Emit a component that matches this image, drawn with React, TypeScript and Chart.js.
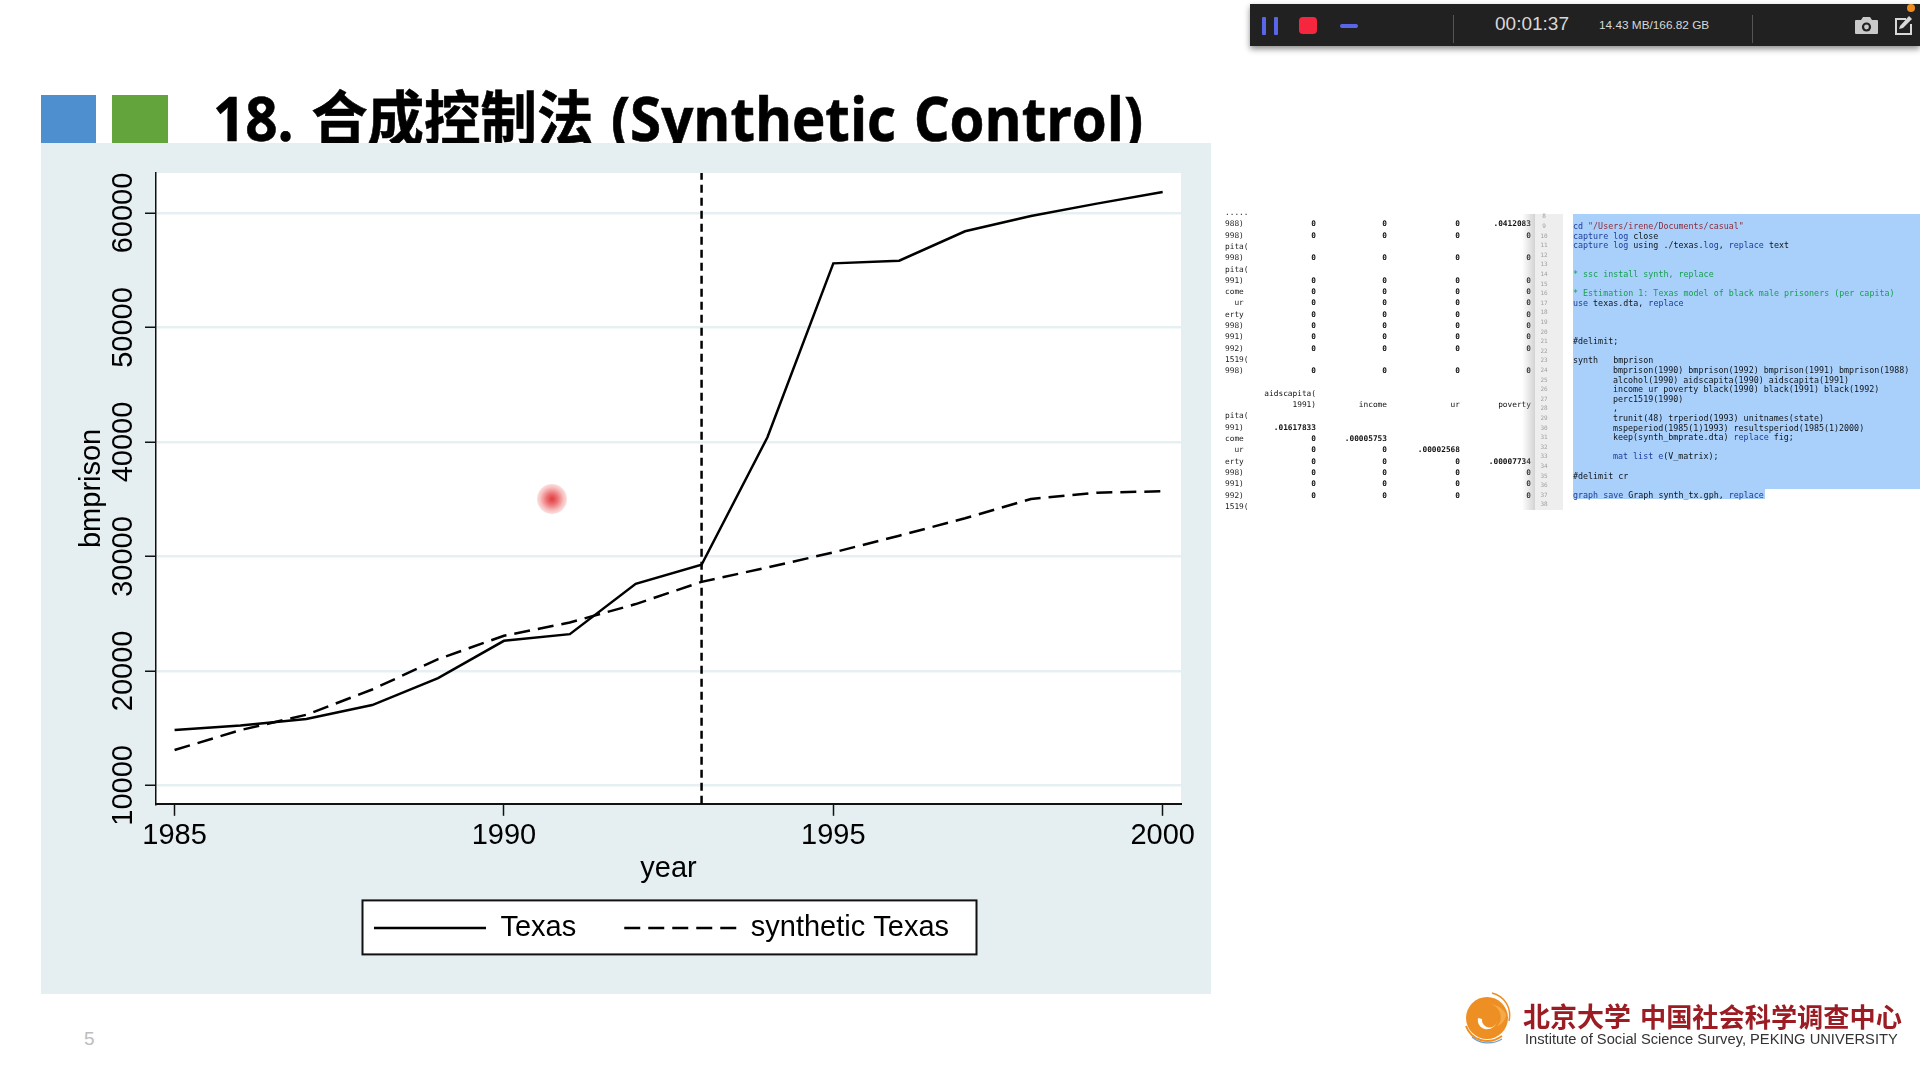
import React, { useEffect, useRef } from "react";
import { Chart, registerables } from "chart.js";

Chart.register(...registerables);

const years = [1985, 1986, 1987, 1988, 1989, 1990, 1991, 1992, 1993, 1994, 1995, 1996, 1997, 1998, 1999, 2000];
const texas = [14840, 15240, 15800, 17020, 19370, 22630, 23215, 27610, 29270, 40410, 55600, 55830, 58400, 59740, 60816, 61836];
const synthetic = [13090, 14830, 16170, 18380, 21030, 23070, 24230, 25840, 27780, 29040, 30350, 31810, 33330, 35020, 35570, 35690];
const treatmentYear = 1993;
const xTickValues = [1985, 1990, 1995, 2000];
const yTickValues = [10000, 20000, 30000, 40000, 50000, 60000];
const xRange = [1984.718, 2000.278];
const yRange = [8394, 63492];
const seriesNames = ["Texas", "synthetic Texas"];
const xTitle = "year";
const yTitle = "bmprison";

const slideTitle = "18. 合成控制法 (Synthetic Control)";
const pageNumber = "5";
const recorderTime = "00:01:37";
const recorderStorage = "14.43 MB/166.82 GB";
const logoCn1 = "北京大学";
const logoCn2 = "中国社会科学调查中心";
const logoEn = "Institute of Social Science Survey, PEKING UNIVERSITY";

const outputRows: string[][] = [
  ["....."],
  ["988)", "0", "0", "0", ".0412083"],
  ["998)", "0", "0", "0", "0"],
  ["pita("],
  ["998)", "0", "0", "0", "0"],
  ["pita("],
  ["991)", "0", "0", "0", "0"],
  ["come", "0", "0", "0", "0"],
  ["  ur", "0", "0", "0", "0"],
  ["erty", "0", "0", "0", "0"],
  ["998)", "0", "0", "0", "0"],
  ["991)", "0", "0", "0", "0"],
  ["992)", "0", "0", "0", "0"],
  ["1519("],
  ["998)", "0", "0", "0", "0"],
  [""],
  ["", "aidscapita("],
  ["", "1991)", "income", "ur", "poverty"],
  ["pita("],
  ["991)", ".01617833"],
  ["come", "0", ".00005753"],
  ["  ur", "0", "0", ".00002568"],
  ["erty", "0", "0", "0", ".00007734"],
  ["998)", "0", "0", "0", "0"],
  ["991)", "0", "0", "0", "0"],
  ["992)", "0", "0", "0", "0"],
  ["1519("],
];

const K = "#1c3c9c";
const G = "#16a050";
const S = "#8c2a3a";
const D = "#111418";
const codeLines: [number, number, [string, string][]][] = [
  [9, 0, [["cd ", K], ['"/Users/irene/Documents/casual"', S]]],
  [10, 0, [["capture log ", K], ["close", D]]],
  [11, 0, [["capture log ", K], ["using ./texas.", D], ["log", K], [", ", D], ["replace", K], [" text", D]]],
  [14, 0, [["* ssc install synth, replace", G]]],
  [16, 0, [["* Estimation 1: Texas model of black male prisoners (per capita)", G]]],
  [17, 0, [["use", K], [" texas.dta, ", D], ["replace", K]]],
  [21, 0, [["#delimit;", D]]],
  [23, 0, [["synth   bmprison", D]]],
  [24, 40, [["bmprison(1990) bmprison(1992) bmprison(1991) bmprison(1988)", D]]],
  [25, 40, [["alcohol(1990) aidscapita(1990) aidscapita(1991)", D]]],
  [26, 40, [["income ur poverty black(1990) black(1991) black(1992)", D]]],
  [27, 40, [["perc1519(1990)", D]]],
  [28, 40, [[",", D]]],
  [29, 40, [["trunit(48) trperiod(1993) unitnames(state)", D]]],
  [30, 40, [["mspeperiod(1985(1)1993) resultsperiod(1985(1)2000)", D]]],
  [31, 40, [["keep(synth_bmprate.dta) ", D], ["replace", K], [" fig;", D]]],
  [33, 40, [["mat list e", K], ["(V_matrix);", D]]],
  [35, 0, [["#delimit cr", D]]],
  [37, 0, [["graph save", K], [" Graph synth_tx.gph, ", D], ["replace", K]]],
];
const gutterNumbers = [8, 9, 10, 11, 12, 13, 14, 15, 16, 17, 18, 19, 20, 21, 22, 23, 24, 25, 26, 27, 28, 29, 30, 31, 32, 33, 34, 35, 36, 37, 38];

const chartFont = '"Liberation Sans", Arial, sans-serif';
const mono = '"DejaVu Sans Mono", monospace';

const box = (left: number, top: number, width: number, height: number, background: string, extra: any = {}) => ({
  position: "absolute" as const,
  left,
  top,
  width,
  height,
  background,
  ...extra,
});

const legendFrame = {
  id: "legendFrame",
  afterLayout(chart: any) {
    chart.legend.left -= 7;
    chart.legend.right -= 7;
  },
  beforeDraw(chart: any) {
    const { ctx, chartArea } = chart;
    ctx.save();
    ctx.fillStyle = "#ffffff";
    ctx.fillRect(chartArea.left, chartArea.top, chartArea.right - chartArea.left, chartArea.bottom - chartArea.top);
    const cx = (chartArea.left + chartArea.right) / 2 + 1;
    const cy = chart.legend.top + 62;
    ctx.strokeStyle = "#111111";
    ctx.lineWidth = 2;
    ctx.fillRect(cx - 307, cy - 27, 614, 54);
    ctx.strokeRect(cx - 307, cy - 27, 614, 54);
    ctx.restore();
  },
};

function App() {
  const ref = useRef<HTMLCanvasElement>(null);
  useEffect(() => {
    const chart = new Chart(ref.current!, {
      type: "line",
      data: {
        datasets: [
          {
            label: seriesNames[0],
            data: years.map((y, i) => ({ x: y, y: texas[i] })),
            borderColor: "#000000",
            borderWidth: 2.5,
            pointRadius: 0,
            tension: 0,
          },
          {
            label: seriesNames[1],
            data: years.map((y, i) => ({ x: y, y: synthetic[i] })),
            borderColor: "#000000",
            borderWidth: 2.5,
            borderDash: [16, 8],
            pointRadius: 0,
            tension: 0,
          },
          {
            label: "treatment",
            data: yRange.map((v) => ({ x: treatmentYear, y: v })),
            borderColor: "#000000",
            borderWidth: 2.5,
            borderDash: [8, 5],
            pointRadius: 0,
          },
        ],
      },
      plugins: [legendFrame],
      options: {
        animation: false,
        responsive: false,
        maintainAspectRatio: false,
        layout: { padding: { left: 0, right: 30, top: 30, bottom: 41.6 } },
        scales: {
          x: {
            type: "linear",
            min: xRange[0],
            max: xRange[1],
            afterBuildTicks: (s: any) => {
              s.ticks = xTickValues.map((value) => ({ value }));
            },
            afterFit: (s: any) => {
              s.height = 61.6;
            },
            grid: { drawOnChartArea: false, tickColor: "#111111", tickLength: 12, tickWidth: 1.5 },
            border: { color: "#111111", width: 2 },
            ticks: {
              color: "#000000",
              font: { family: chartFont, size: 29 },
              padding: 3,
              maxRotation: 0,
              autoSkip: false,
              callback: (v: any) => String(v),
            },
            title: {
              display: true,
              text: xTitle,
              color: "#000000",
              font: { family: chartFont, size: 29 },
              padding: { top: 0, bottom: -20.8 },
            },
          },
          y: {
            type: "linear",
            min: yRange[0],
            max: yRange[1],
            afterBuildTicks: (s: any) => {
              s.ticks = yTickValues.map((value) => ({ value }));
            },
            afterFit: (s: any) => {
              s.width = 115;
            },
            grid: { color: "#e6eff1", lineWidth: 2.5, tickColor: "#111111", tickLength: 11, tickWidth: 1.5 },
            border: { color: "#111111", width: 1.5 },
            ticks: {
              color: "#000000",
              font: { family: chartFont, size: 29 },
              padding: -19.5,
              crossAlign: "center",
              minRotation: 90,
              maxRotation: 90,
              autoSkip: false,
              callback: (v: any) => String(v),
            },
            title: {
              display: true,
              text: yTitle,
              color: "#000000",
              font: { family: chartFont, size: 29 },
              padding: { top: 34, bottom: 0 },
            },
          },
        },
        plugins: {
          tooltip: { enabled: false },
          legend: {
            position: "bottom",
            fullSize: false,
            labels: {
              color: "#000000",
              font: { family: chartFont, size: 29 },
              usePointStyle: true,
              pointStyle: "line",
              pointStyleWidth: 112,
              padding: 48,
              filter: (item: any) => seriesNames.includes(item.text),
              generateLabels: (c: any) =>
                Chart.defaults.plugins.legend.labels.generateLabels(c).map((item: any) => {
                  const ds = c.data.datasets[item.datasetIndex];
                  return { ...item, lineDash: ds.borderDash || [], lineWidth: ds.borderWidth, strokeStyle: ds.borderColor };
                }),
            },
          },
        },
      },
    } as any);
    return () => chart.destroy();
  }, []);

  return (
    <div style={{ position: "absolute", left: 0, top: 0, width: 1920, height: 1080, overflow: "hidden", background: "#fff" }}>
      <div style={box(41, 95, 55, 48, "#4e8fcf")} />
      <div style={box(112, 95, 56, 48, "#64a43c")} />
      <div
        style={{
          position: "absolute",
          left: 213,
          top: 76,
          whiteSpace: "nowrap",
          color: "#000",
          font: '700 60px "Open Sans","Noto Sans CJK SC",sans-serif',
          lineHeight: "84px",
          wordSpacing: 3,
          transform: "scaleX(0.941)",
          transformOrigin: "left top",
          WebkitTextStroke: "0.6px #000",
        }}
      >
        {slideTitle}
      </div>

      <div style={box(41, 143, 1170, 851, "#e5eef1")}>
        <canvas ref={ref} width={1170} height={851} style={{ display: "block" }} />
      </div>
      <div
        style={box(537, 484, 30, 30, "radial-gradient(circle, rgba(224,60,60,1) 0%, rgba(232,84,88,0.85) 25%, rgba(240,130,130,0.5) 55%, rgba(250,200,200,0.25) 80%, rgba(255,255,255,0) 100%)", {
          borderRadius: "50%",
        })}
      />

      <div style={{ position: "absolute", left: 84, top: 1028, color: "#bdbdbd", font: '19px "Liberation Sans",sans-serif' }}>{pageNumber}</div>

      {/* recorder bar */}
      <div style={box(1250, 4, 670, 42, "#212121", { boxShadow: "0 3px 6px rgba(0,0,0,0.45)" })} />
      <div style={box(1262, 17, 4, 18, "#5a66e8", { borderRadius: 1 })} />
      <div style={box(1274, 17, 4, 18, "#5a66e8", { borderRadius: 1 })} />
      <div style={box(1299, 17, 18, 17, "#f5263e", { borderRadius: 4 })} />
      <div style={box(1340, 24, 18, 4, "#5a66e8", { borderRadius: 2 })} />
      <div style={box(1453, 15, 1, 28, "#555")} />
      <div style={box(1752, 15, 1, 28, "#555")} />
      <div style={{ position: "absolute", left: 1495, top: 13, color: "#d8d8d8", font: '19px "Liberation Sans",sans-serif', whiteSpace: "nowrap" }}>{recorderTime}</div>
      <div style={{ position: "absolute", left: 1599, top: 18, color: "#d8d8d8", font: '11.8px "Liberation Sans",sans-serif', whiteSpace: "nowrap" }}>{recorderStorage}</div>
      <svg style={{ position: "absolute", left: 1850, top: 12 }} width="70" height="30" viewBox="0 0 70 30">
        <path d="M6 8h5l2-3h7l2 3h5a1 1 0 0 1 1 1v12a1 1 0 0 1-1 1H6a1 1 0 0 1-1-1V9a1 1 0 0 1 1-1z" fill="#c9c9c9" />
        <circle cx="16.5" cy="15" r="4.6" fill="#212121" />
        <circle cx="16.5" cy="15" r="2.4" fill="#c9c9c9" />
        <path d="M56 7h-10v15h15v-10" fill="none" stroke="#d8d8d8" strokeWidth="2" />
        <path d="M50 14l9-10 3 3-9 9-4 1z" fill="#d8d8d8" />
      </svg>
      <div style={box(1907, 4, 8, 8, "#f08c1e", { borderRadius: "50%" })} />

      {/* software screenshot */}
      <div style={{ position: "absolute", left: 0, top: 0, width: 1920, height: 1080, filter: "blur(0.35px)" }}>
        <div style={box(1220, 214, 300, 296, "#fff", { overflow: "hidden" })} />
        {outputRows.map((row, r) => {
          const top = 212 + r * 11.3 - 5;
          const rights = [1316, 1387, 1460, 1531];
          return (
            <React.Fragment key={r}>
              <div style={{ position: "absolute", left: 1225, top, font: `7.8px/11px ${mono}`, color: "#1c1c1c", whiteSpace: "pre" }}>{row[0]}</div>
              {row.slice(1).map((c, i) => (
                <div
                  key={i}
                  style={{
                    position: "absolute",
                    right: 1920 - rights[i],
                    top,
                    font: `${c.startsWith(".") || c === "0" ? 700 : 400} 7.8px/11px ${mono}`,
                    color: "#111",
                    whiteSpace: "pre",
                  }}
                >
                  {c}
                </div>
              ))}
            </React.Fragment>
          );
        })}
        <div style={box(1522, 214, 13, 296, "linear-gradient(to right, rgba(200,200,200,0), rgba(175,175,175,0.55))")} />
        <div style={box(1535, 214, 28, 296, "#eeeeee")} />
        {gutterNumbers.map((n) => (
          <div key={n} style={{ position: "absolute", left: 1535, width: 18, textAlign: "center", top: 226 + (n - 9) * 9.6 - 4, font: `6px/8px ${mono}`, color: "#a0a0a0" }}>
            {n}
          </div>
        ))}
        <div style={box(1573, 214, 347, 275, "#a9d0fb")} />
        <div style={box(1573, 489, 192, 10, "#a9d0fb")} />
        {codeLines.map(([n, indent, parts]) => (
          <div key={n} style={{ position: "absolute", left: 1573 + indent, top: 226 + (n - 9) * 9.6 - 5, font: `8.35px/10px ${mono}`, whiteSpace: "pre" }}>
            {parts.map(([t, c], i) => (
              <span key={i} style={{ color: c }}>
                {t}
              </span>
            ))}
          </div>
        ))}
      </div>

      {/* institution logo */}
      <svg style={{ position: "absolute", left: 1460, top: 990 }} width="56" height="60" viewBox="0 0 56 60">
        <circle cx="27" cy="28" r="21" fill="#ee8f24" />
        <path d="M27 14a13 13 0 0 1 10 22c5-1 9-7 9-12a21 21 0 0 0-19-10z" fill="#f4a94a" />
        <path d="M22 29a7 7 0 0 0 15 2c-1 6-7 9-12 8-5-1-8-6-7-11z" fill="#fff" />
        <path d="M6 36c5 14 22 20 36 10" fill="none" stroke="#ee8f24" strokeWidth="2" />
        <path d="M12 47c8 7 20 8 30 2" fill="none" stroke="#6d9ed0" strokeWidth="1.2" />
        <path d="M32 3c12 3 20 14 17 28" fill="none" stroke="#ee8f24" strokeWidth="1.5" />
      </svg>
      <div style={{ position: "absolute", left: 1523, top: 999, color: "#9c1c24", font: '700 27px "Noto Sans CJK SC",sans-serif', lineHeight: "34px", whiteSpace: "nowrap" }}>{logoCn1}</div>
      <div style={{ position: "absolute", left: 1640, top: 999, color: "#9c1c24", font: '700 26.2px "Noto Sans CJK SC",sans-serif', lineHeight: "34px", whiteSpace: "nowrap" }}>{logoCn2}</div>
      <div style={{ position: "absolute", left: 1525, top: 1031, color: "#333", font: '14.7px "Liberation Sans",sans-serif', whiteSpace: "nowrap" }}>{logoEn}</div>
    </div>
  );
}

export default App;
